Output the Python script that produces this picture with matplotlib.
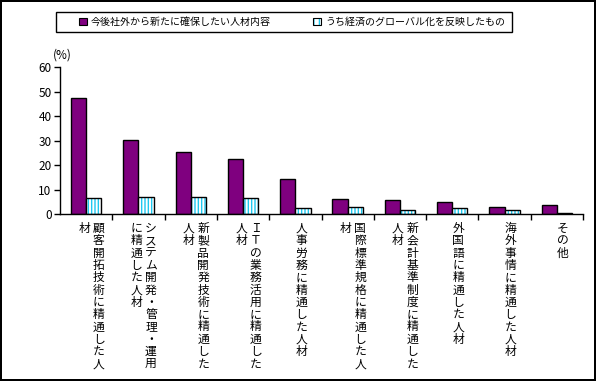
import matplotlib
matplotlib.use('Agg')
import matplotlib.pyplot as plt
from matplotlib.patches import Patch, Rectangle
import numpy as np

plt.rcParams['font.family'] = ['Noto Sans CJK JP', 'DejaVu Sans']

# Category labels, written vertically; first column is the rightmost one
categories = [
    ["顧客開拓技術に精通した人", "材"],
    ["システム開発・管理・運用", "に精通した人材"],
    ["新製品開発技術に精通した", "人材"],
    ["ＩＴの業務活用に精通した", "人材"],
    ["人事労務に精通した人材"],
    ["国際標準規格に精通した人", "材"],
    ["新会計基準制度に精通した", "人材"],
    ["外国語に精通した人材"],
    ["海外事情に精通した人材"],
    ["その他"],
]
series_names = ["今後社外から新たに確保したい人材内容", "うち経済のグローバル化を反映したもの"]
total_values = [47.2, 30.1, 25.2, 22.4, 14.2, 6.0, 5.6, 4.8, 2.7, 3.5]
global_values = [6.4, 6.9, 6.9, 6.4, 2.3, 2.7, 1.5, 2.3, 1.5, 0.4]
yticks = [0, 10, 20, 30, 40, 50, 60]

purple = '#7F007F'
cyan = '#1EC8F0'

fig = plt.figure(figsize=(5.96, 3.81), dpi=100)
fig.patch.set_edgecolor('black')
fig.patch.set_linewidth(1.5)
ax = fig.add_axes([0.1007, 0.4383, 0.8775, 0.3858])

x = np.arange(len(categories))
w = 0.29
ax.bar(x - w / 2, total_values, w, color=purple, edgecolor='black', linewidth=1)
# hatched bars: cyan stripes, then black outline on top
ax.bar(x + w / 2, global_values, w, color='white', edgecolor=cyan, hatch='|||||', linewidth=0)
ax.bar(x + w / 2, global_values, w, fill=False, edgecolor='black', linewidth=1)

ax.set_xlim(-0.5, len(categories) - 0.5)
ax.set_ylim(0, 60)
ax.set_yticks(yticks)
ax.set_xticks(np.arange(0.5, len(categories), 1))
ax.set_xticklabels([])
ax.tick_params(axis='y', direction='out', length=4, width=1, labelsize=8.5, pad=2)
ax.tick_params(axis='x', direction='out', length=4, width=1)
for s in ['top', 'right']:
    ax.spines[s].set_visible(False)
for s in ['left', 'bottom']:
    ax.spines[s].set_linewidth(1)
ax.text(0.004, 1.08, "(%)", transform=ax.transAxes, fontsize=8.5, ha='center', va='center')

# vertical labels, character by character
step = 12.3
for i, cols in enumerate(categories):
    if len(cols) == 1:
        offsets = [6]
    else:
        offsets = [12.5, -2]
    for col, dx in zip(cols, offsets):
        for k, ch in enumerate(col):
            ax.annotate(ch, xy=(i, 0), xycoords='data', xytext=(dx, -8 - step * k),
                        textcoords='offset pixels', ha='center', va='top', fontsize=8.5,
                        annotation_clip=False)

# legend box
fig.add_artist(Rectangle((0.094, 0.916), 0.765, 0.0525, transform=fig.transFigure,
                         fill=False, edgecolor='black', linewidth=1))
handles = [Patch(facecolor=purple, edgecolor='black', linewidth=0.8),
           (Patch(facecolor='white', edgecolor=cyan, hatch='|||', linewidth=0),
            Patch(fill=False, edgecolor='black', linewidth=0.8))]
leg = fig.legend(handles, series_names, loc='center left', ncol=2,
                 bbox_to_anchor=(0.1326, 0.942), fontsize=7.2, frameon=False,
                 handlelength=0.8, handleheight=0.8, handletextpad=0.4,
                 columnspacing=4.2, borderaxespad=0, borderpad=0)

fig.savefig('out.png', dpi=100)
